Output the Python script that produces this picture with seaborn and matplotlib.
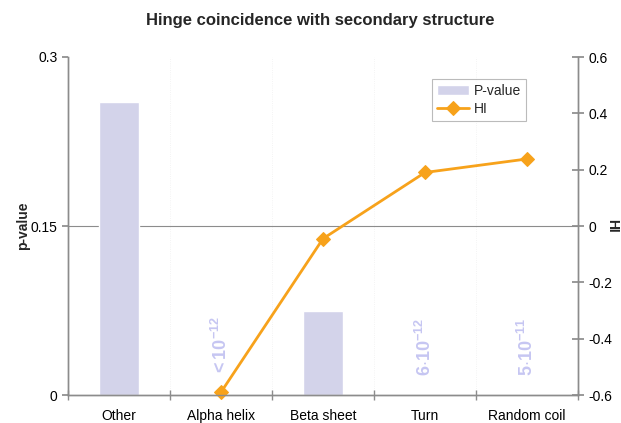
import numpy as np
import pandas as pd
import matplotlib
matplotlib.use('Agg')
import matplotlib.pyplot as plt
import seaborn as sns

sns.set_theme(style='white')
plt.rcParams['font.family'] = ['Liberation Sans', 'DejaVu Sans']
plt.rcParams['mathtext.fontset'] = 'custom'
plt.rcParams['mathtext.rm'] = 'Liberation Sans:bold'
plt.rcParams['mathtext.it'] = 'Liberation Sans:bold'
plt.rcParams['mathtext.bf'] = 'Liberation Sans:bold'

# Data
categories = ['Other', 'Alpha helix', 'Beta sheet', 'Turn', 'Random coil']
p_values = [0.26, 0.0, 0.075, 0.0, 0.0]
hi_values = [np.nan, -0.59, -0.045, 0.19, 0.238]
small_p_labels = {1: r'${<}10^{-12}$', 3: r'$6{\cdot}10^{-12}$', 4: r'$5{\cdot}10^{-11}$'}

df = pd.DataFrame({'Category': categories, 'P-value': p_values, 'HI': hi_values})

bar_color = '#D3D3EA'
line_color = '#F7A21B'
spine_color = '#8C8C8C'

fig = plt.figure(figsize=(6.21, 4.23), dpi=100)
ax1 = fig.add_axes([68 / 621, 1 - 395 / 423, 510 / 621, 338 / 423])

sns.barplot(x='Category', y='P-value', data=df, ax=ax1, color=bar_color,
            width=0.4, saturation=1, label='P-value', zorder=2)
ax1.set_ylim(0, 0.3)
ax1.set_xlim(-0.5, 4.5)
ax1.set_yticks([0, 0.15, 0.3])
ax1.set_yticklabels(['0', '0.15', '0.3'])
ax1.set_xlabel('')
ax1.set_ylabel('p-value', fontweight='bold', fontsize=10)
ax1.yaxis.set_label_coords((30 - 68) / 510, 0.5)
ax1.axhline(0.15, color=spine_color, lw=0.8, zorder=1)
for x in [0.5, 1.5, 2.5, 3.5]:
    ax1.axvline(x, color='#F0F0F0', lw=0.6, ls=':', zorder=0)
ax1.set_xticks([-0.5, 0.5, 1.5, 2.5, 3.5, 4.5], minor=True)

for i, txt in small_p_labels.items():
    ax1.text(i, 0.017, txt, rotation=90, ha='center', va='bottom',
             color='#C6C6F2', fontsize=13)

ax2 = ax1.twinx()
sns.lineplot(x='Category', y='HI', data=df, ax=ax2, color=line_color,
             marker='D', markersize=7, markeredgecolor=line_color, lw=2,
             sort=False, label='HI', clip_on=False)
ax2.set_ylim(-0.6, 0.6)
ax2.set_yticks([-0.6, -0.4, -0.2, 0, 0.2, 0.4, 0.6])
ax2.set_yticklabels(['-0.6', '-0.4', '-0.2', '0', '0.2', '0.4', '0.6'])
ax2.set_ylabel('HI', fontweight='bold', fontsize=10, rotation=270,
               va='center', ha='center')
ax2.yaxis.set_label_coords((612 - 68) / 510, 0.5)

for ax in (ax1, ax2):
    ax.spines['top'].set_visible(False)
    for s in ['left', 'right', 'bottom']:
        ax.spines[s].set_color(spine_color)
        ax.spines[s].set_linewidth(1.0)
    ax.tick_params(axis='both', labelsize=10, colors='black', length=4,
                   color=spine_color)
    ax.grid(False)

ax1.tick_params(axis='y', direction='out', left=True)
ax1.tick_params(axis='x', which='major', bottom=False, pad=6)
ax1.tick_params(axis='x', which='minor', direction='inout', bottom=True,
                length=7, color=spine_color)
ax2.tick_params(axis='y', direction='inout', right=True, length=8)

# Combined legend
h1, l1 = ax1.get_legend_handles_labels()
h2, l2 = ax2.get_legend_handles_labels()
if ax1.get_legend():
    ax1.get_legend().remove()
if ax2.get_legend():
    ax2.get_legend().remove()
leg = ax2.legend(h1 + h2, l1 + l2, loc='upper left',
                 bbox_to_anchor=(364 / 510, 1 - 22 / 338), fontsize=10,
                 frameon=True, fancybox=False, edgecolor='#AAAAAA',
                 handlelength=2.3, handletextpad=0.4, borderpad=0.35,
                 labelspacing=0.3, borderaxespad=0)
leg.get_frame().set_linewidth(0.8)

fig.text(320 / 621, 1 - 20 / 423, 'Hinge coincidence with secondary structure',
         ha='center', va='center', fontsize=12, fontweight='bold')

fig.savefig('out.png', dpi=100)
